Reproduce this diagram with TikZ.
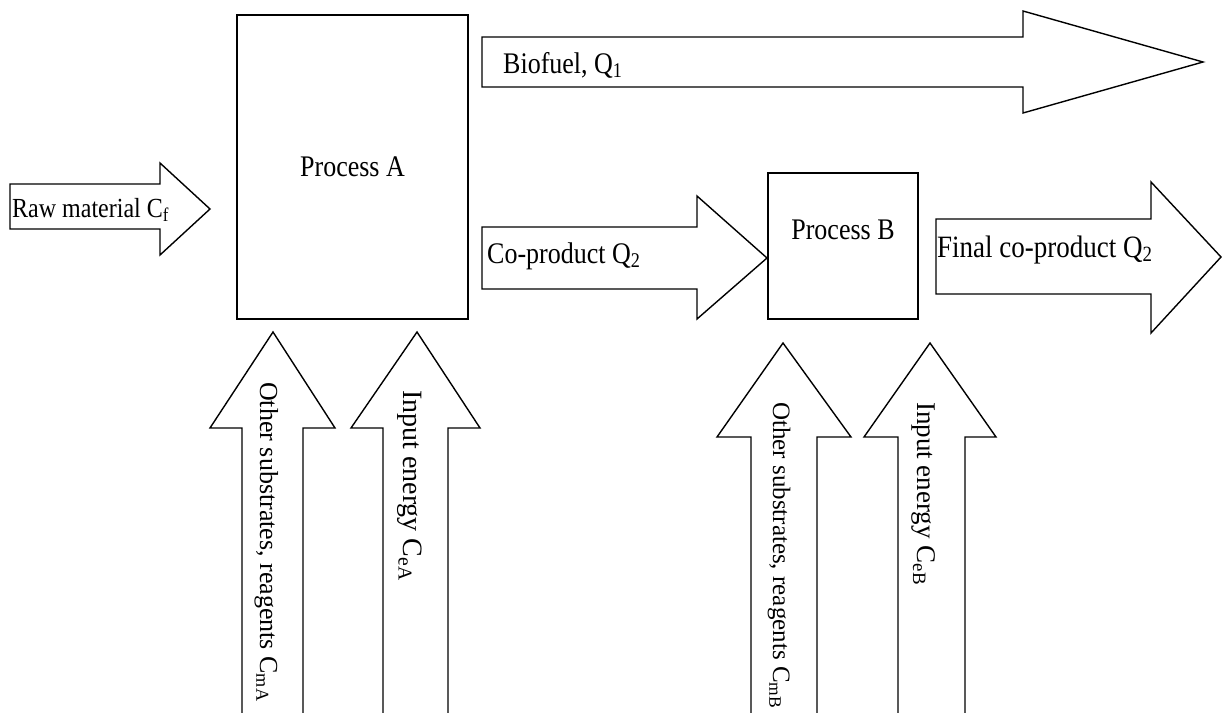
\documentclass[tikz,border=0pt]{standalone}
\usepackage{fontspec}
\usepackage{graphicx}
\setmainfont{Liberation Serif}
\newcommand{\fs}[1]{\fontsize{#1}{#1}\selectfont}
\newcommand{\tall}[1]{\scalebox{1}[1.15]{#1}}
\begin{document}
\begin{tikzpicture}[x=1pt,y=-1pt,
  blockarrow/.style={draw=black, fill=white, line width=1.4pt, line join=miter},
  procbox/.style={draw=black, line width=1.4pt, inner sep=0pt, fill=white},
  lbl/.style={inner sep=0pt, anchor=base west, text=black},
  vlbl/.style={inner sep=0pt, anchor=base west, rotate=-90, text=black}]
\useasboundingbox (0,0) rectangle (1223,712);
\fill[white] (0,0) rectangle (1223,712);

% Process boxes
\node[procbox, minimum width=231pt, minimum height=304pt] (pa) at (352.5,167) {};
\node[procbox, minimum width=150pt, minimum height=146pt] (pb) at (843,246) {};
\node[inner sep=0pt, anchor=base, font=\fs{26}] (pat) at (352.5,176) {\tall{Process A}};
\node[inner sep=0pt, anchor=base, font=\fs{26}] (pbt) at (843,239) {\tall{Process B}};

% Raw material arrow
\draw[blockarrow] (10,184) -- (160,184) -- (160,163) -- (210,209) -- (160,255) -- (160,229) -- (10,229) -- cycle;
\node[lbl, font=\fs{24}] (raw) at (12,217) {\tall{Raw material C\textsubscript{f}}};

% Biofuel arrow
\draw[blockarrow] (482,37) -- (1023,37) -- (1023,11) -- (1203,62) -- (1023,113) -- (1023,87) -- (482,87) -- cycle;
\node[lbl, font=\fs{26}] (bio) at (503,73) {\tall{Biofuel, Q\textsubscript{1}}};

% Co-product arrow
\draw[blockarrow] (482,227) -- (697,227) -- (697,196) -- (767,258) -- (697,319) -- (697,289) -- (482,289) -- cycle;
\node[lbl, font=\fs{26}] (cop) at (487,263) {\tall{Co-product Q\textsubscript{2}}};

% Final co-product arrow
\draw[blockarrow] (936,219) -- (1151,219) -- (1151,182) -- (1221,257) -- (1151,333) -- (1151,294) -- (936,294) -- cycle;
\node[lbl, font=\fs{27}] (fin) at (937,257) {\tall{Final co-product Q\textsubscript{2}}};

% Upward arrows under Process A
\draw[blockarrow] (242,716) -- (242,428) -- (210,428) -- (273,332) -- (335,428) -- (303,428) -- (303,716);
\draw[blockarrow] (383,716) -- (383,428) -- (351,428) -- (417,332) -- (480,428) -- (448,428) -- (448,716);
\node[vlbl, font=\fs{26}] (subA) at (260,382) {Other substrates, reagents C\textsubscript{mA}};
\node[vlbl, font=\fs{28}] (enA) at (403,390) {Input energy C\textsubscript{eA}};

% Upward arrows under Process B
\draw[blockarrow] (751,716) -- (751,437) -- (717,437) -- (783,343) -- (851,437) -- (817,437) -- (817,716);
\draw[blockarrow] (898,716) -- (898,437) -- (864,437) -- (930,343) -- (996,437) -- (965,437) -- (965,716);
\node[vlbl, font=\fs{25}] (subB) at (773,402) {Other substrates, reagents C\textsubscript{mB}};
\node[vlbl, font=\fs{27}] (enB) at (917,402) {Input energy C\textsubscript{eB}};
\end{tikzpicture}
\end{document}
